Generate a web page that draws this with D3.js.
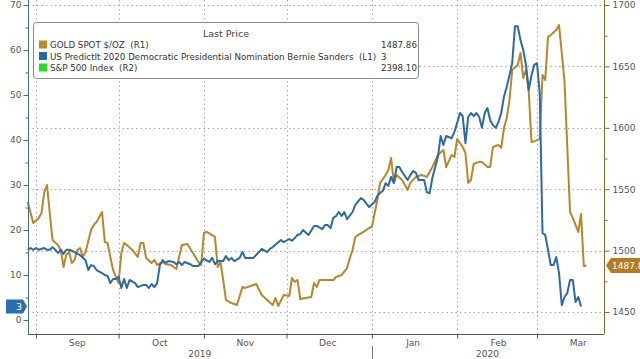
<!DOCTYPE html>
<html><head><meta charset="utf-8">
<script src="https://cdn.jsdelivr.net/npm/d3@7/dist/d3.min.js"></script>
<style>
html,body{margin:0;padding:0;background:#fff;}
svg{display:block;}
text{font-family:"DejaVu Sans",sans-serif;}
</style></head>
<body>
<svg id="chart" width="640" height="359"></svg>
<script>
// ---------- DATA ----------
const sandersDates = ["2019-08-29","2019-08-30","2019-08-31","2019-09-01","2019-09-02","2019-09-04","2019-09-05","2019-09-06","2019-09-07","2019-09-08","2019-09-09","2019-09-10","2019-09-11","2019-09-12","2019-09-13","2019-09-15","2019-09-17","2019-09-19","2019-09-20","2019-09-21","2019-09-22","2019-09-23","2019-09-25","2019-09-26","2019-09-27","2019-09-28","2019-09-29","2019-09-30","2019-10-01","2019-10-02","2019-10-03","2019-10-04","2019-10-05","2019-10-07","2019-10-08","2019-10-10","2019-10-11","2019-10-12","2019-10-13","2019-10-14","2019-10-15","2019-10-16","2019-10-17","2019-10-18","2019-10-19","2019-10-21","2019-10-22","2019-10-23","2019-10-24","2019-10-25","2019-10-27","2019-10-28","2019-10-29","2019-10-30","2019-10-31","2019-11-01","2019-11-03","2019-11-04","2019-11-05","2019-11-06","2019-11-08","2019-11-09","2019-11-10","2019-11-11","2019-11-12","2019-11-14","2019-11-15","2019-11-16","2019-11-17","2019-11-19","2019-11-21","2019-11-22","2019-11-24","2019-11-25","2019-11-26","2019-11-28","2019-11-29","2019-11-30","2019-12-02","2019-12-03","2019-12-04","2019-12-05","2019-12-06","2019-12-07","2019-12-09","2019-12-11","2019-12-12","2019-12-14","2019-12-15","2019-12-16","2019-12-17","2019-12-18","2019-12-19","2019-12-20","2019-12-21","2019-12-22","2019-12-23","2019-12-25","2019-12-26","2019-12-28","2019-12-29","2019-12-31","2020-01-02","2020-01-03","2020-01-04","2020-01-05","2020-01-06","2020-01-07","2020-01-08","2020-01-09","2020-01-10","2020-01-11","2020-01-12","2020-01-13","2020-01-14","2020-01-15","2020-01-16","2020-01-17","2020-01-18","2020-01-20","2020-01-21","2020-01-22","2020-01-23","2020-01-25","2020-01-26","2020-01-27","2020-01-28","2020-01-30","2020-01-31","2020-02-01","2020-02-02","2020-02-03","2020-02-04","2020-02-05","2020-02-06","2020-02-07","2020-02-08","2020-02-09","2020-02-10","2020-02-11","2020-02-12","2020-02-13","2020-02-14","2020-02-15","2020-02-16","2020-02-17","2020-02-18","2020-02-19","2020-02-20","2020-02-21","2020-02-22","2020-02-23","2020-02-24","2020-02-25","2020-02-26","2020-02-27","2020-02-28","2020-02-29","2020-03-01","2020-03-02","2020-03-03","2020-03-04","2020-03-05","2020-03-06","2020-03-07","2020-03-08","2020-03-09","2020-03-10","2020-03-11","2020-03-12","2020-03-13","2020-03-14","2020-03-15","2020-03-16","2020-03-17"];
const sandersValues = [15.6,16,15.6,16,15.6,16,15.6,15.6,16.2,15.6,14.9,15.6,14.7,15.6,15.6,15.1,14.4,13.3,11.1,12.2,12,11.1,10.4,10,9.8,8.2,9.1,9.1,9.6,7.1,9.1,7.1,8.9,8.2,7.3,7.8,7.8,7.1,8,7.3,8.2,12.2,13.3,12.7,13.1,12.9,12.4,12.9,12.2,12.9,12.4,12,12,12,12.9,13.6,12.9,13.8,12.4,13.1,13.1,14.2,13.3,13.8,13.1,13.8,15.1,13.8,13.8,13.8,15.1,15.8,15.1,15.8,16.2,17.3,17.8,17.3,18,17.6,18.2,18.9,19.1,20,18.9,20.9,20.9,20.2,21.1,21.1,20.4,22.7,23.1,24,23.1,24,22.4,24,25.6,27.1,26.7,25.1,26.2,27.6,28.2,28.7,30.4,29.8,31.8,30.4,34,34,32.9,32,31.1,32.2,33.1,32.7,31.1,31.1,28.4,28.2,31.6,36.2,40.9,38.9,40.9,40.4,41.8,43.8,46,45.3,39.3,45.1,46,45.3,46,45.1,42.7,46,47.1,44.4,43.3,42.7,44,46,49.6,51.8,54.4,57.1,65.3,65.3,62.2,60,56.7,51.1,54.4,56.7,57.1,50.4,19.3,18.9,15.6,12.2,12.2,14,10.4,3.3,5.1,6,8.9,8.9,4,5.1,3];

const goldDates = ["2019-08-29","2019-08-31","2019-09-02","2019-09-03","2019-09-04","2019-09-05","2019-09-06","2019-09-07","2019-09-09","2019-09-10","2019-09-11","2019-09-12","2019-09-13","2019-09-14","2019-09-15","2019-09-16","2019-09-17","2019-09-18","2019-09-19","2019-09-21","2019-09-22","2019-09-23","2019-09-25","2019-09-26","2019-09-27","2019-09-28","2019-09-29","2019-10-01","2019-10-02","2019-10-03","2019-10-04","2019-10-06","2019-10-08","2019-10-09","2019-10-10","2019-10-11","2019-10-13","2019-10-14","2019-10-15","2019-10-17","2019-10-18","2019-10-20","2019-10-22","2019-10-24","2019-10-26","2019-10-28","2019-10-30","2019-10-31","2019-11-01","2019-11-02","2019-11-05","2019-11-06","2019-11-07","2019-11-08","2019-11-09","2019-11-11","2019-11-13","2019-11-15","2019-11-16","2019-11-18","2019-11-20","2019-11-22","2019-11-24","2019-11-26","2019-11-27","2019-11-28","2019-11-30","2019-12-02","2019-12-03","2019-12-04","2019-12-05","2019-12-06","2019-12-08","2019-12-10","2019-12-11","2019-12-12","2019-12-13","2019-12-15","2019-12-18","2019-12-19","2019-12-21","2019-12-23","2019-12-24","2019-12-25","2019-12-26","2019-12-27","2019-12-29","2019-12-31","2020-01-01","2020-01-03","2020-01-04","2020-01-06","2020-01-07","2020-01-08","2020-01-09","2020-01-10","2020-01-12","2020-01-13","2020-01-14","2020-01-15","2020-01-17","2020-01-19","2020-01-21","2020-01-23","2020-01-25","2020-01-27","2020-01-28","2020-01-30","2020-01-31","2020-02-01","2020-02-03","2020-02-04","2020-02-05","2020-02-06","2020-02-07","2020-02-09","2020-02-10","2020-02-12","2020-02-13","2020-02-14","2020-02-16","2020-02-17","2020-02-18","2020-02-19","2020-02-20","2020-02-21","2020-02-23","2020-02-24","2020-02-25","2020-02-26","2020-02-27","2020-02-28","2020-02-29","2020-03-02","2020-03-03","2020-03-04","2020-03-05","2020-03-06","2020-03-08","2020-03-09","2020-03-10","2020-03-11","2020-03-13","2020-03-14","2020-03-16","2020-03-17","2020-03-18","2020-03-19"];
const goldValues = [1539.6,1522.5,1526.6,1530.6,1547.7,1553.4,1530.6,1508.6,1504.6,1500.5,1486.7,1496.4,1498.9,1489.9,1492.4,1500.5,1502.1,1494.8,1498.9,1516.8,1520.9,1523.3,1531.4,1507,1506.2,1494.8,1484.2,1473.6,1498,1506.2,1504.6,1500.5,1494.8,1506.2,1506.2,1494,1489.9,1492.4,1488.3,1490.7,1489.1,1488.3,1485,1504.6,1505.4,1498,1490.7,1488.3,1514.3,1515.2,1511.1,1486.7,1490.7,1476.1,1459.8,1457.3,1455.7,1470.4,1469.6,1471.2,1472.8,1463.9,1459.8,1455.7,1461.4,1454.9,1463.9,1463.1,1477.7,1474.4,1476.1,1460.6,1461.4,1462.2,1473.6,1470.4,1476.1,1476.1,1476.1,1478.5,1480.1,1485.8,1494,1500.5,1511.1,1512.7,1515.2,1518.4,1519.2,1541.2,1555.1,1561.6,1565.6,1575.4,1555.1,1561.6,1557.5,1553.4,1549.4,1555.1,1560,1561.6,1560,1568.1,1577.9,1581.9,1568.1,1577.9,1576.2,1590.9,1584.4,1579.5,1555.1,1557.5,1570.5,1572.2,1572.2,1568.1,1568.1,1584.4,1586,1583.6,1599.8,1608,1622.6,1647.1,1651.1,1660.9,1640.6,1647.1,1629.2,1588.4,1589,1591,1643,1639,1674,1675.6,1679.6,1683.7,1660.9,1637.3,1531.4,1526.6,1515.2,1529.8,1487.5,1487.86];

const leftTicks = [0,10,20,30,40,50,60,70];
const rightTicks = [1450,1500,1550,1600,1650,1700];
const monthStarts = ["2019-09-01","2019-10-01","2019-11-01","2019-12-01","2020-01-01","2020-02-01","2020-03-01"];
const monthLabels = ["Sep","Oct","Nov","Dec","Jan","Feb","Mar"];
const yearLabels = [{year:"2019", from:"2019-08-29", to:"2020-01-01"},{year:"2020", from:"2020-01-01", to:"2020-03-25"}];
const legendTitle = "Last Price";
const legendItems = [
  {name:"GOLD SPOT $/OZ  (R1)", value:"1487.86", color:"#b8862b"},
  {name:"US PredictIt 2020 Democratic Presidential Nomination Bernie Sanders  (L1)", value:"3", color:"#2b67a3"},
  {name:"S&P 500 Index  (R2)", value:"2398.10", color:"#22e022"}
];
const lastSanders = "3";
const lastGold = "1487.86";

// ---------- LAYOUT ----------
const GOLD = "#b8862b", BLUE = "#2d6aa5";
const L = 28, R = 604, T = 0, B = 334;
const parse = d3.timeParse("%Y-%m-%d");
const svg = d3.select("#chart");
const FONT = "'DejaVu Sans',sans-serif";

const sep1 = parse("2019-09-01"), mar1 = parse("2020-03-01");
const pxPerMs = (537 - 36) / (mar1 - sep1);
const x = d3.scaleTime()
  .domain([new Date(+sep1 - (36 - L) / pxPerMs), new Date(+mar1 + (R - 537) / pxPerMs)])
  .range([L, R]);
const yL = d3.scaleLinear().domain([-14/4.5, 320/4.5]).range([B, T]);
const yR = d3.scaleLinear().domain([1450 - 22/1.228, 1700 + 5/1.228]).range([B, T]);

// gridlines
const grid = svg.append("g").attr("stroke","#a8a8a8").attr("stroke-dasharray","1.5,3").attr("stroke-width",1);
rightTicks.forEach(v => grid.append("line").attr("x1",L).attr("x2",R).attr("y1",Math.round(yR(v))+0.5).attr("y2",Math.round(yR(v))+0.5));
monthStarts.forEach(m => grid.append("line").attr("x1",Math.round(x(parse(m)))+0.5).attr("x2",Math.round(x(parse(m)))+0.5).attr("y1",T).attr("y2",B));

// lines
const gData = goldDates.map((d,i)=>({d:parse(d), v:goldValues[i]}));
const sData = sandersDates.map((d,i)=>({d:parse(d), v:sandersValues[i]}));
svg.append("path").datum(gData).attr("fill","none").attr("stroke",GOLD).attr("stroke-width",2).attr("stroke-linejoin","round")
  .attr("d", d3.line().x(p=>x(p.d)).y(p=>yR(p.v)));
svg.append("path").datum(sData).attr("fill","none").attr("stroke",BLUE).attr("stroke-width",2).attr("stroke-linejoin","round")
  .attr("d", d3.line().x(p=>x(p.d)).y(p=>yL(p.v)));

// left axis
const la = svg.append("g").attr("transform",`translate(${L+0.5},0)`)
  .call(d3.axisLeft(yL).tickValues(leftTicks).tickSize(5).tickPadding(2));
la.select(".domain").attr("stroke","#4a6a8a").attr("d",`M0,${T}V${B}`);
la.selectAll(".tick line").attr("stroke","#4a6a8a");
la.selectAll(".tick text").attr("fill","#555").style("font-size","9px").style("font-family",FONT);
svg.append("g").attr("transform",`translate(${L+0.5},0)`)
  .call(d3.axisLeft(yL).tickValues(d3.range(5,71,10)).tickSize(3).tickFormat(""))
  .call(g=>{g.select(".domain").remove(); g.selectAll("line").attr("stroke","#4a6a8a");});

// right axis
const ra = svg.append("g").attr("transform",`translate(${R+0.5},0)`)
  .call(d3.axisRight(yR).tickValues(rightTicks).tickSize(5).tickPadding(3).tickFormat(d3.format("d")));
ra.select(".domain").attr("stroke","#8a6a30").attr("d",`M0,${T}V${B}`);
ra.selectAll(".tick line").attr("stroke","#8a6a30");
ra.selectAll(".tick text").attr("fill","#555").style("font-size","9px").style("font-family",FONT);
svg.append("g").attr("transform",`translate(${R+0.5},0)`)
  .call(d3.axisRight(yR).tickValues(d3.range(1475,1700,50)).tickSize(3).tickFormat(""))
  .call(g=>{g.select(".domain").remove(); g.selectAll("line").attr("stroke","#8a6a30");});

// bottom axis
const ba = svg.append("g").attr("transform",`translate(0,${B+0.5})`)
  .call(d3.axisBottom(x).tickValues(monthStarts.map(parse)).tickSize(4).tickFormat(""));
ba.select(".domain").attr("stroke","#555").attr("d",`M${L},0H${R}`);
ba.selectAll(".tick line").attr("stroke","#555");
monthStarts.forEach((m,i)=>{
  const d0 = parse(m);
  const mid = d3.timeDay.offset(d0, 15);
  svg.append("text").attr("x", x(mid)).attr("y", 346).attr("text-anchor","middle")
    .attr("fill","#555").style("font-size","9px").text(monthLabels[i]);
});
yearLabels.forEach(yl=>{
  svg.append("text").attr("x",(x(parse(yl.from))+x(parse(yl.to)))/2).attr("y",357).attr("text-anchor","middle")
    .attr("fill","#555").style("font-size","9px").text(yl.year);
});
svg.append("line").attr("x1",Math.round(x(parse("2020-01-01")))+0.5).attr("x2",Math.round(x(parse("2020-01-01")))+0.5)
  .attr("y1",346).attr("y2",359).attr("stroke","#777");

// legend
const lg = svg.append("g");
lg.append("rect").attr("x",33.5).attr("y",22.5).attr("width",385).attr("height",56).attr("rx",3)
  .attr("fill","#fff").attr("stroke","#8a8a8a");
lg.append("text").attr("x",226).attr("y",37).attr("text-anchor","middle").attr("fill","#444").style("font-size","9.5px").text(legendTitle);
legendItems.forEach((it,i)=>{
  const yb = 48 + i*11.5;
  lg.append("rect").attr("x",39).attr("y",yb-7.5).attr("width",8).attr("height",8).attr("fill",it.color);
  lg.append("text").attr("x",50).attr("y",yb).attr("fill","#333").style("font-size","8.7px").attr("xml:space","preserve").text(it.name);
  lg.append("text").attr("x",381).attr("y",yb).attr("fill","#333").style("font-size","8.7px").text(it.value);
});

// last value labels
const ySl = yL(+lastSanders);
svg.append("path").attr("d",`M6,${ySl-7} H23 L27,${ySl} L23,${ySl+7} H6 Z`).attr("fill","#2a6db0");
svg.append("text").attr("x",22).attr("y",ySl+3.5).attr("text-anchor","end").attr("fill","#fff").style("font-size","9.5px").text(lastSanders);
const yGl = yR(+lastGold);
svg.append("path").attr("d",`M606,${yGl} L611,${yGl-7.5} H642 V${yGl+7.5} H611 Z`).attr("fill","#b37b22");
svg.append("text").attr("x",612).attr("y",yGl+3.5).attr("fill","#fff").style("font-size","9px").text(lastGold);
</script>
</body></html>
